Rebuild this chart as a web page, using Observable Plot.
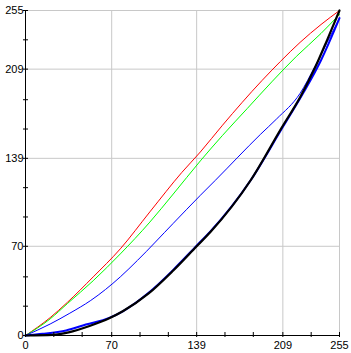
<!DOCTYPE html>
<html><head><meta charset="utf-8">
<script src="https://cdn.jsdelivr.net/npm/d3@7"></script>
<script src="https://cdn.jsdelivr.net/npm/@observablehq/plot@0.6"></script>
<style>body{margin:0;background:#fff}</style>
</head><body><div id="chart"></div>
<script>
const tickLabels = [0, 70, 139, 209, 255];
const minorTicks = [23, 46, 93, 116, 162, 185, 232];
const gridTicks = [70, 139, 209, 255];

const redX = [0, 20, 34, 55, 77, 101, 127, 142, 160, 192, 207, 223, 240, 255];
const redY = [0, 14, 26, 46, 68, 97, 128, 144, 165, 200, 215, 230, 244, 255];

const greenX = [0, 20, 34, 55, 77, 101, 120, 142, 160, 180, 200, 220, 240, 255];
const greenY = [0, 13, 25, 43, 64, 89, 111, 137, 157, 178, 199, 219, 237, 252];

const blueX = [0, 20, 36, 53, 77, 91, 120, 142, 154, 191, 204, 223, 235, 245, 255];
const blueY = [0, 9, 17.5, 27.5, 46, 59, 88, 110, 121.6, 158, 170, 190, 211, 230, 249];

const blue2X = [0, 14, 33, 49, 68, 79, 100, 120, 139, 150, 183, 208, 226, 240, 255];
const blue2Y = [0, 1.3, 4, 8.6, 13.8, 19, 33.5, 51.5, 70.5, 81.5, 122, 162, 191, 216, 249];

const blackX = [0, 22, 35, 52, 68, 79, 100, 120, 139, 150, 183, 208, 223, 236, 245, 255];
const blackY = [0, 0.5, 2.5, 7.5, 13.5, 19, 33, 51, 70, 81, 122, 163, 187, 212, 232, 255];

const toPts = (xs, ys) => xs.map((x, i) => ({x, y: ys[i]}));
const allTicks = tickLabels.concat(minorTicks);

const chart = Plot.plot({
  width: 351, height: 353,
  marginLeft: 25, marginTop: 10, marginRight: 12, marginBottom: 18,
  x: {domain: [0, 255], label: null},
  y: {domain: [0, 255], label: null},
  style: {fontFamily: "'Liberation Sans', Arial, sans-serif", fontSize: "11px", background: "#fff", color: "#000"},
  marks: [
    Plot.gridX(gridTicks, {stroke: "#c8c8c8", strokeOpacity: 1}),
    Plot.gridY(gridTicks, {stroke: "#c8c8c8", strokeOpacity: 1}),
    Plot.line(toPts(redX, redY), {x: "x", y: "y", stroke: "#ff0000", strokeWidth: 1, curve: "monotone-x"}),
    Plot.line(toPts(greenX, greenY), {x: "x", y: "y", stroke: "#00ff00", strokeWidth: 1, curve: "monotone-x"}),
    Plot.line(toPts(blueX, blueY), {x: "x", y: "y", stroke: "#0000ff", strokeWidth: 1, curve: "monotone-x"}),
    Plot.line(toPts(blue2X, blue2Y), {x: "x", y: "y", stroke: "#0000ff", strokeWidth: 2, curve: "monotone-x"}),
    Plot.line(toPts(blackX, blackY), {x: "x", y: "y", stroke: "#000", strokeWidth: 2.2, curve: "monotone-x"}),
    Plot.ruleX([0], {stroke: "#000"}),
    Plot.ruleY([0], {stroke: "#000"}),
    Plot.ruleX(allTicks, {x: d => d, y1: 0, y2: 0, insetTop: -3, insetBottom: -2, stroke: "#000"}),
    Plot.ruleY(allTicks, {y: d => d, x1: 0, x2: 0, insetLeft: -2, insetRight: -3, stroke: "#000"}),
    Plot.axisX(tickLabels, {tickSize: 0, tickPadding: 6, fontSize: 11, label: null}),
    Plot.axisY(tickLabels, {tickSize: 0, tickPadding: 2, fontSize: 11, label: null})
  ]
});
document.getElementById("chart").appendChild(chart);
</script>
</body></html>
